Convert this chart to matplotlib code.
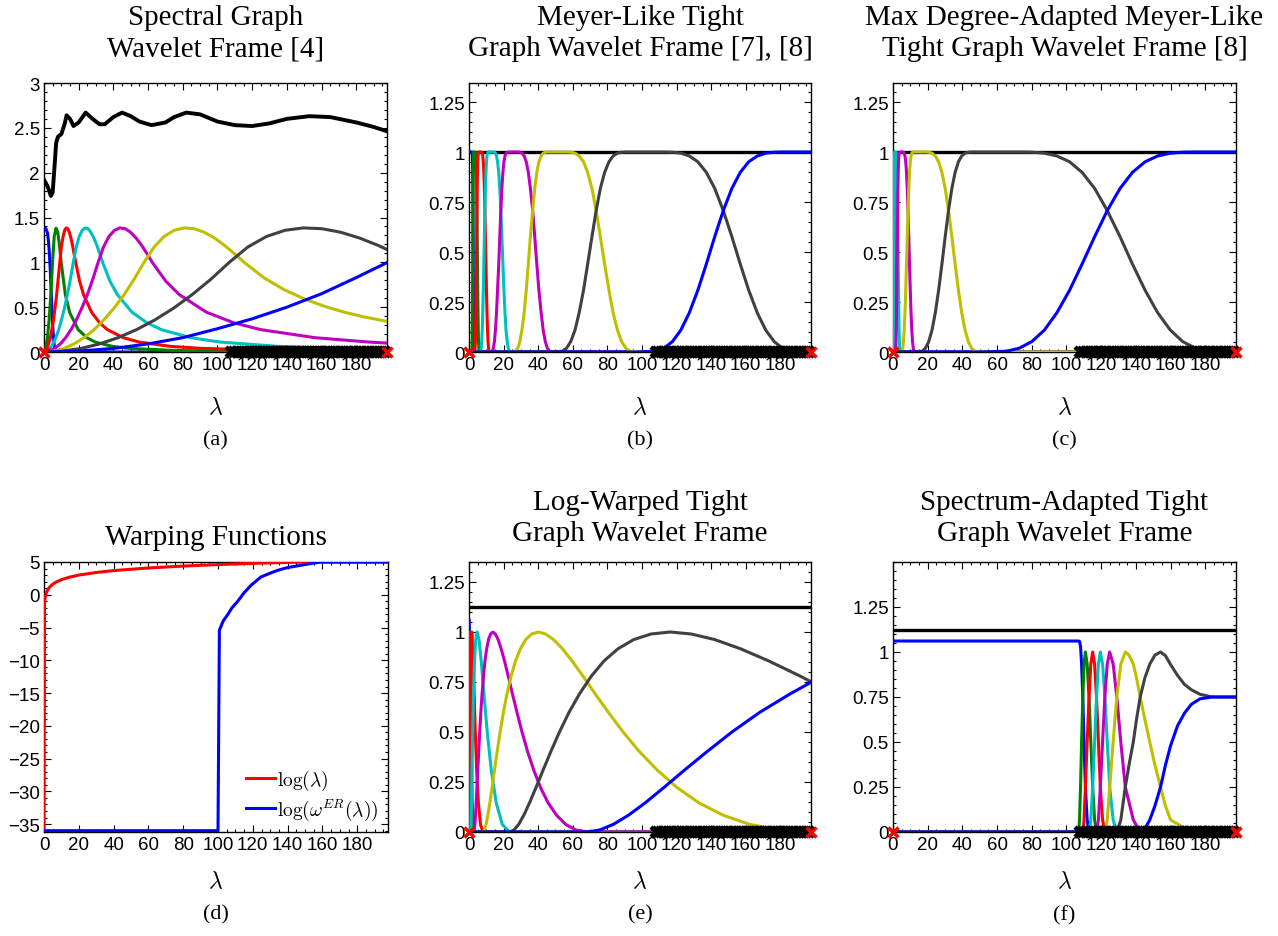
import matplotlib
matplotlib.use("Agg")
import matplotlib.pyplot as plt
from matplotlib.ticker import AutoMinorLocator

plt.rcParams['font.family'] = ['Liberation Sans', 'DejaVu Sans']
plt.rcParams['mathtext.fontset'] = 'cm'

# ---------------- data ----------------
lam_max = 197.7
eig_vals = [108, 109.5, 111, 112.5, 114, 115.5, 117, 118.5, 120, 121.5, 123, 124.5, 126,
            127.5, 129, 130.5, 132, 133.5, 135, 136.5, 138, 139.5, 141, 142.5, 144, 145.5,
            147, 148.5, 150, 151.5, 153, 154.5, 156, 157.5, 159, 160.5, 162, 163.5, 165,
            166.5, 168, 169.5, 171, 172.5, 174, 175.5, 177, 178.5, 180, 181.5, 183, 184.5,
            186, 187.5, 189, 190.5, 192, 193.5, 195, 196.5]
x_ticks = [0, 20, 40, 60, 80, 100, 120, 140, 160, 180]
x_ticklabels = ['0', '20', '40', '60', '80', '100', '120', '140', '160', '180']

# (a) spectral graph wavelets
a_blue_lam = [0, 1, 2, 2.5, 3, 3.5, 4, 4.5, 5, 5.5, 6, 7, 8, 198]
a_blue_val = [1.38, 1.38, 1.33, 1.25, 1.13, 0.96, 0.74, 0.51, 0.30, 0.15, 0.06, 0.004, 0, 0]
a_green_lam = [0, 1, 2, 3, 4, 4.9, 5.9, 6.9, 7.9, 8.9, 9.9, 12.3, 14.8, 19.7, 24.7, 29.6,
               39.4, 49.3, 74, 98.6, 148, 198]
a_green_val = [0, 0.04, 0.16, 0.37, 0.66, 1, 1.29, 1.38, 1.34, 1.19, 1, 0.64, 0.44, 0.25,
               0.16, 0.11, 0.063, 0.04, 0.018, 0.01, 0.0044, 0.0025]
a_red_lam = [0, 1.8, 3.7, 5.5, 7.3, 9.1, 10, 11, 11.9, 12.8, 13.7, 14.6, 15.5, 16.4, 17.3,
             18.3, 20.5, 22.8, 27.4, 32, 36.5, 45.7, 54.8, 73, 91, 137, 183, 198]
a_red_val = [0, .04, .16, .36, .64, 1, 1.171, 1.288, 1.357, 1.384, 1.375, 1.336, 1.273,
             1.192, 1.099, 1, .79, .64, .444, .327, .25, .16, .111, .0625, .04, .018, .01,
             .0085]
a_cyan_lam = [0, 1.7, 3.4, 5.1, 6.8, 8.5, 10.1, 11.8, 13.5, 15.2, 16.9, 18.6, 20.3, 22,
              23.7, 25.4, 27, 28.7, 30.4, 32.1, 33.8, 38.0, 42.3, 50.7, 59.2, 67.6, 84.5,
              101.4, 135.2, 169, 198]
a_cyan_val = [0, .01, .04, .09, .16, .25, .36, .49, .64, .81, 1, 1.171, 1.288, 1.357,
              1.384, 1.375, 1.336, 1.273, 1.192, 1.099, 1, .79, .64, .444, .327, .25, .16,
              .111, .0625, .04, .029]
a_mag_lam = [0, 3.1, 6.2, 9.4, 12.5, 15.6, 18.7, 21.8, 25, 28.1, 31.2, 34.3, 37.4, 40.6,
             43.7, 46.8, 49.9, 53, 56.2, 59.3, 62.4, 70.2, 78, 93.6, 109.2, 124.8, 156,
             187.2, 198]
a_mag_val = [0, .01, .04, .09, .16, .25, .36, .49, .64, .81, 1, 1.171, 1.288, 1.357,
             1.384, 1.375, 1.336, 1.273, 1.192, 1.099, 1, .79, .64, .444, .327, .25, .16,
             .111, .099]
a_yel_lam = [0, 5.8, 11.5, 17.3, 23.1, 28.9, 34.6, 40.4, 46.2, 51.9, 57.7, 63.5, 69.2,
             75.0, 80.8, 86.6, 92.3, 98.1, 103.9, 109.6, 115.4, 126.9, 138.5, 150, 161.6,
             173.1, 184.6, 198]
a_yel_val = [0, .01, .04, .09, .16, .25, .36, .49, .64, .81, 1, 1.171, 1.288, 1.357,
             1.384, 1.375, 1.336, 1.273, 1.192, 1.099, 1, .826, .694, .592, .51, .444,
             .391, .34]
a_gray_lam = [0, 10.7, 21.4, 32, 42.7, 53.4, 64.1, 74.8, 85.4, 96.1, 106.8, 117.5, 128.2,
              138.8, 149.5, 160.2, 170.9, 181.6, 192.2, 198]
a_gray_val = [0, .01, .04, .09, .16, .25, .36, .49, .64, .81, 1, 1.171, 1.288, 1.357,
              1.384, 1.375, 1.336, 1.273, 1.192, 1.14]
a_blue2_lam = [0, 20, 40, 60, 80, 100, 120, 140, 160, 180, 198]
a_blue2_val = [0, 0.01, 0.04, 0.09, 0.16, 0.26, 0.37, 0.5, 0.65, 0.83, 1.0]
a_sum_lam = [0, 2, 4, 5, 6, 7, 8, 10, 12, 13, 15, 17, 20, 24, 28, 32, 35, 40, 45, 50, 55,
             62, 70, 75, 82, 90, 100, 110, 120, 130, 140, 153, 165, 180, 190, 198]
a_sum_val = [1.92, 1.85, 1.74, 1.78, 2.05, 2.33, 2.40, 2.43, 2.55, 2.64, 2.60, 2.52, 2.56,
             2.67, 2.60, 2.54, 2.54, 2.62, 2.67, 2.63, 2.57, 2.53, 2.56, 2.62, 2.67, 2.65,
             2.57, 2.53, 2.52, 2.55, 2.60, 2.63, 2.62, 2.56, 2.51, 2.46]

# Meyer-like transition (b) and (c)
meyer_rise = [0, .004, .019, .052, .11, .197, .309, .44, .578, .707, .817, .898, .951,
              .98, .994, .999, 1, 1, 1]
meyer_fall = [1, 1, 1, .999, .994, .98, .951, .898, .817, .707, .578, .44, .309, .197,
              .11, .052, .019, .004, 0]

# (b) transition bands, highest first
b_band1 = [98, 107.8, 112.7, 117.6, 122.5, 127.4, 132.3, 137.2, 142.1, 147, 151.9, 156.8,
           161.7, 166.6, 171.5, 176.4, 181.3, 186.2, 196]
b_band2 = [49, 53.9, 56.4, 58.8, 61.3, 63.7, 66.2, 68.6, 71.1, 73.5, 75.9, 78.4, 80.9,
           83.3, 85.8, 88.2, 90.7, 93.1, 98]
b_band3 = [24.5, 26.9, 28.2, 29.4, 30.6, 31.9, 33.1, 34.3, 35.5, 36.8, 38.0, 39.2, 40.4,
           41.7, 42.9, 44.1, 45.3, 46.6, 49]
b_band4 = [12.25, 13.5, 14.1, 14.7, 15.3, 15.9, 16.5, 17.2, 17.8, 18.4, 19.0, 19.6, 20.2,
           20.8, 21.4, 22.1, 22.7, 23.3, 24.5]
b_band5 = [6.13, 6.74, 7.04, 7.35, 7.66, 7.96, 8.27, 8.58, 8.88, 9.19, 9.49, 9.8, 10.1,
           10.4, 10.7, 11.0, 11.3, 11.6, 12.25]
b_band6 = [3.06, 3.37, 3.52, 3.68, 3.83, 3.98, 4.13, 4.29, 4.44, 4.59, 4.75, 4.90, 5.05,
           5.21, 5.36, 5.51, 5.67, 5.82, 6.13]
b_band7 = [1.53, 1.68, 1.76, 1.84, 1.91, 1.99, 2.07, 2.14, 2.22, 2.30, 2.37, 2.45, 2.53,
           2.60, 2.68, 2.76, 2.83, 2.91, 3.06]

# (c) transition bands, highest first
c_band1 = [51, 65.5, 72.8, 80.0, 87.3, 94.5, 101.8, 109.0, 116.3, 123.5, 130.8, 138.0,
           145.3, 152.5, 159.8, 167.0, 174.3, 181.5, 196]
c_band2 = [13, 16.8, 18.7, 20.6, 22.5, 24.4, 26.3, 28.2, 30.1, 32.0, 33.9, 35.8, 37.7,
           39.6, 41.5, 43.4, 45.3, 47.2, 51]
c_band3 = [4.3, 5.17, 5.61, 6.04, 6.48, 6.91, 7.35, 7.78, 8.22, 8.65, 9.09, 9.52, 9.96,
           10.39, 10.83, 11.26, 11.7, 12.13, 13]
c_band4 = [1.1, 1.42, 1.58, 1.74, 1.9, 2.06, 2.22, 2.38, 2.54, 2.7, 2.86, 3.02, 3.18,
           3.34, 3.5, 3.66, 3.82, 3.98, 4.3]
c_band5 = [0.3, 0.38, 0.42, 0.46, 0.5, 0.54, 0.58, 0.62, 0.66, 0.7, 0.74, 0.78, 0.82,
           0.86, 0.9, 0.94, 0.98, 1.02, 1.1]

# (d) warping functions
d_red_lam = [0, 0.3, 0.6, 1, 1.5, 2, 3, 5, 7, 10, 15, 20, 30, 40, 60, 80, 100, 120, 148, 198]
d_red_val = [-36, -1.2, -0.51, 0, 0.41, 0.69, 1.10, 1.61, 1.95, 2.30, 2.71, 3.0, 3.40,
             3.69, 4.09, 4.38, 4.61, 4.79, 5.0, 5.0]
d_blue_lam = [0, 100, 100.8, 103, 105.4, 108, 111, 115, 119, 124.6, 130, 134.3, 140,
              147.7, 153, 159, 198]
d_blue_val = [-36, -36, -5.4, -4.0, -3.1, -2.0, -1.1, 0.3, 1.45, 2.7, 3.3, 3.73, 4.15,
              4.5, 4.75, 5.0, 5.0]

# (e) log-warped tight frame
cos_bump17 = [0, 0, .038, .146, .309, .5, .691, .854, .962, 1, .962, .854, .691, .5, .309,
              .146, .038, 0, 0]
cos_bump33 = [0, 0, .010, .038, .084, .146, .222, .309, .402, .5, .598, .691, .778, .854,
              .916, .962, .990, 1, .990, .962, .916, .854, .778, .691, .598, .5, .402,
              .309, .222, .146, .084, .038, .010, 0, 0]
e_blue_lam = [0, 0.113, 0.193, 0.252, 0.329, 0.43, 0.561, 0.733, 0.956, 198]
e_blue_val = [1.061, 1.061, 1.031, 0.935, 0.75, 0.5, 0.25, 0.067, 0, 0]
e_green_lam = [0, 0.113, 0.206, 0.308, 0.459, 0.561, 0.837, 1.248, 1.862, 2.779, 198]
e_green_val = [0, 0, .309, .691, .962, 1, .854, .5, .146, 0, 0]
e_red_lam = [0, 0.329, 0.491, 0.733, 1.093, 1.631, 2.433, 3.63, 4.434, 5.415, 6.614, 8.077, 198]
e_red_val = [0, 0, .146, .5, .854, 1, .854, .5, .309, .146, .038, 0, 0]
e_cyan_lam = [0, 0.957, 1.169, 1.428, 1.744, 2.130, 2.601, 3.177, 3.881, 4.740, 5.789,
              7.071, 8.637, 10.55, 12.88, 15.74, 19.22, 23.48, 198]
e_mag_lam = [0, 2.78, 3.07, 3.40, 3.76, 4.15, 4.59, 5.07, 5.60, 6.19, 6.84, 7.56, 8.36,
             9.23, 10.2, 11.28, 12.47, 13.78, 15.23, 16.83, 18.6, 20.56, 22.72, 25.1,
             27.75, 30.66, 33.89, 37.45, 41.39, 45.7, 50.6, 55.9, 61.8, 68.2, 198]
e_yel_lam = [0, 8.08, 8.93, 9.87, 10.91, 12.06, 13.33, 14.73, 16.28, 17.99, 19.88, 21.98,
             24.29, 26.84, 29.67, 32.79, 36.24, 40.04, 44.25, 48.9, 54.05, 59.7, 66.0,
             72.9, 80.6, 89.1, 98.5, 108.9, 120.3, 132.9, 146.9, 162.3, 179.4, 198]
e_yel_val = [0, 0, .010, .038, .084, .146, .222, .309, .402, .5, .598, .691, .778, .854,
             .916, .962, .990, 1, .990, .962, .916, .854, .778, .691, .598, .5, .402, .309,
             .222, .146, .084, .038, .010, 0]
e_gray_lam = [0, 23.5, 25.97, 28.7, 31.7, 35.0, 38.7, 42.8, 47.3, 52.3, 57.8, 63.9, 70.6,
              77.9, 86.1, 95.2, 105.2, 116.3, 128.5, 142.1, 157.0, 173.6, 191.8, 198]
e_gray_val = [0, 0, .010, .038, .084, .146, .222, .309, .402, .5, .598, .691, .778, .854,
              .916, .962, .990, 1, .990, .962, .916, .854, .778, .75]
e_blue2_lam = [0, 68.3, 75.5, 83.4, 92.2, 101.9, 112.6, 124.5, 137.6, 152.0, 168.0, 185.7, 198]
e_blue2_val = [0, 0, .010, .038, .084, .146, .222, .309, .402, .5, .598, .691, .75]

# (f) spectrum-adapted tight frame
warp_bump = [0, 0, .067, .25, .5, .75, .933, 1, .933, .75, .5, .25, .067, 0, 0]
f_blue_lam = [0, 107.0, 107.5, 108.1, 108.7, 109.4, 110.1, 110.9, 111.9, 113.0, 198]
f_blue_val = [1.061, 1.061, 1.059, 1.031, .935, .75, .5, .25, .067, 0, 0]
f_green_lam = [0, 107.0, 107.5, 108.1, 108.7, 109.4, 110.1, 110.9, 111.9, 113.0, 114.0,
               115.1, 116.2, 117.3, 198]
f_red_lam = [0, 109.4, 110.1, 110.9, 111.9, 113.0, 114.0, 115.1, 116.2, 117.3, 118.4,
             119.5, 120.8, 122.1, 198]
f_cyan_lam = [0, 113.0, 114.0, 115.1, 116.2, 117.3, 118.4, 119.5, 120.8, 122.1, 123.5,
              124.9, 126.9, 129.0, 198]
f_mag_lam = [0, 117.3, 118.4, 119.5, 120.8, 122.1, 123.5, 124.9, 126.9, 129.0, 131.3,
             133.9, 138.5, 142.5, 198]
f_yel_lam = [0, 122.1, 123.5, 124.9, 126.9, 129.0, 131.3, 133.9, 136.0, 138.5, 140.4,
             142.5, 145.1, 148.0, 151.0, 154.2, 157.0, 160.0, 169, 184, 198]
f_yel_val = [0, 0, .067, .25, .5, .75, .933, 1, .983, .933, .854, .75, .629, .5, .371,
             .25, .146, .067, .017, 0, 0]
f_gray_lam = [0, 129.0, 131.3, 133.9, 136.0, 138.5, 140.4, 142.5, 145.1, 148.0, 151.0,
              154.2, 157.0, 160.0, 164, 168, 172, 177, 184, 198]
f_gray_val = [0, 0, .067, .25, .371, .5, .629, .75, .854, .933, .983, 1, .98, .93, .87,
              .82, .79, .765, .75, .75]
f_blue2_lam = [0, 142.5, 145.1, 148.0, 151.0, 154.2, 157.0, 160.0, 164, 168, 172, 177,
               184, 198]
f_blue2_val = [0, 0, .017, .067, .146, .25, .37, .48, .59, .66, .71, .74, .75, .75]

frame_sum_lam = [0, 198]
b_sum_val = [1, 1]
e_sum_val = [1.125, 1.125]

titles = ['Spectral Graph\nWavelet Frame [4]',
          'Meyer-Like Tight\nGraph Wavelet Frame [7], [8]',
          'Max Degree-Adapted Meyer-Like\nTight Graph Wavelet Frame [8]',
          'Warping Functions',
          'Log-Warped Tight\nGraph Wavelet Frame',
          'Spectrum-Adapted Tight\nGraph Wavelet Frame']
captions = ['(a)', '(b)', '(c)', '(d)', '(e)', '(f)']

# ---------------- style ----------------
BLUE = '#0000ff'
GREEN = '#008000'
RED = '#ff0000'
CYAN = '#00bfbf'
MAG = '#bf00bf'
YEL = '#bfbf00'
GRAY = '#404040'
LW = 2.2
SERIF = 'Liberation Serif'

fig = plt.figure(figsize=(12.78, 9.37), dpi=100)
W, H = 1278.0, 937.0


def make_axes(left, right, top, bottom):
    return fig.add_axes([left / W, 1 - bottom / H, (right - left) / W, (bottom - top) / H])


def meyer(rise_band, fall_band):
    # one tight-frame kernel: rises over one band, falls over the next
    lam = [0] + rise_band + fall_band[1:] + [198]
    val = [0] + meyer_rise + meyer_fall[1:] + [0]
    return lam, val


def style(ax, ylim, yticks, yticklabels, yminor):
    ax.set_xlim(0, lam_max)
    ax.set_ylim(*ylim)
    ax.set_xticks(x_ticks)
    ax.set_xticklabels(x_ticklabels)
    ax.set_yticks(yticks)
    ax.set_yticklabels(yticklabels)
    ax.xaxis.set_minor_locator(AutoMinorLocator(4))
    ax.yaxis.set_minor_locator(AutoMinorLocator(yminor))
    ax.tick_params(which='both', direction='in', top=True, right=True, labelsize=13.5,
                   width=0.8, pad=3)
    ax.tick_params(which='major', length=5)
    ax.tick_params(which='minor', length=2.5)
    for s in ax.spines.values():
        s.set_linewidth(1.0)


def finish(ax, title, caption, lab_y, cap_y, pad):
    ax.set_title(title, fontfamily=SERIF, fontsize=21, pad=pad, linespacing=1.25)
    ax.text(0.5, lab_y, r'$\lambda$', transform=ax.transAxes, ha='center', va='center',
            fontsize=17)
    ax.text(0.5, cap_y, caption, transform=ax.transAxes, ha='center', va='center',
            fontfamily=SERIF, fontsize=16)


def draw_eigs(ax):
    ax.plot(eig_vals, [0] * len(eig_vals), 'x', color='k', ms=6.5, mew=3.2, clip_on=False,
            zorder=5)
    ax.plot([0, lam_max], [0, 0], 'x', color=RED, ms=7.5, mew=2.5, clip_on=False, zorder=6)


def draw_curves(ax, curves, total_lam, total_val, total_lw):
    ax.plot(total_lam, total_val, color='k', lw=total_lw, zorder=3)
    for lam, val, col in curves:
        ax.plot(lam, val, color=col, lw=LW, solid_joinstyle='round', zorder=3)
    draw_eigs(ax)


top_rows = (84, 353)
bot_rows = (563, 833)
cols = [(44, 387), (469, 811), (893, 1236)]
yt = [0, 0.25, 0.5, 0.75, 1, 1.25]
ytl = ['0', '0.25', '0.5', '0.75', '1', '1.25']

# (a)
ax = make_axes(cols[0][0], cols[0][1], *top_rows)
draw_curves(ax, [(a_blue_lam, a_blue_val, BLUE), (a_green_lam, a_green_val, GREEN),
                 (a_red_lam, a_red_val, RED), (a_cyan_lam, a_cyan_val, CYAN),
                 (a_mag_lam, a_mag_val, MAG), (a_yel_lam, a_yel_val, YEL),
                 (a_gray_lam, a_gray_val, GRAY), (a_blue2_lam, a_blue2_val, BLUE)],
            a_sum_lam, a_sum_val, 2.8)
style(ax, (0, 3), [0, 0.5, 1, 1.5, 2, 2.5, 3], ['0', '0.5', '1', '1.5', '2', '2.5', '3'], 5)
finish(ax, titles[0], captions[0], -0.205, -0.325, 20)

# (b)
ax = make_axes(cols[1][0], cols[1][1], *top_rows)
b_curves = [([0] + b_band7 + [198], [1] + meyer_fall + [0], BLUE),
            (*meyer(b_band7, b_band6), GREEN),
            (*meyer(b_band6, b_band5), RED),
            (*meyer(b_band5, b_band4), CYAN),
            (*meyer(b_band4, b_band3), MAG),
            (*meyer(b_band3, b_band2), YEL),
            (*meyer(b_band2, b_band1), GRAY),
            ([0] + b_band1 + [198], [0] + meyer_rise + [1], BLUE)]
draw_curves(ax, b_curves, frame_sum_lam, b_sum_val, 2.4)
style(ax, (0, 1.345), yt, ytl, 5)
finish(ax, titles[1], captions[1], -0.205, -0.325, 20)

# (c)
ax = make_axes(cols[2][0], cols[2][1], *top_rows)
c_curves = [([0] + c_band5 + [198], [1] + meyer_fall + [0], BLUE),
            (*meyer(c_band5, c_band4), CYAN),
            (*meyer(c_band4, c_band3), MAG),
            (*meyer(c_band3, c_band2), YEL),
            (*meyer(c_band2, c_band1), GRAY),
            ([0] + c_band1 + [198], [0] + meyer_rise + [1], BLUE)]
draw_curves(ax, c_curves, frame_sum_lam, b_sum_val, 2.4)
style(ax, (0, 1.345), yt, ytl, 5)
finish(ax, titles[2], captions[2], -0.205, -0.325, 20)

# (d)
ax = make_axes(44, 388, *bot_rows)
ax.plot(d_red_lam, d_red_val, color=RED, lw=LW, zorder=3, label=r'$\log(\lambda)$')
ax.plot(d_blue_lam, d_blue_val, color=BLUE, lw=LW, zorder=3,
        label=r'$\log(\omega^{ER}(\lambda))$')
style(ax, (-36.2, 5), [5, 0, -5, -10, -15, -20, -25, -30, -35],
      ['5', '0', '\u22125', '\u221210', '\u221215', '\u221220', '\u221225', '\u221230',
       '\u221235'], 5)
ax.legend(loc='lower right', frameon=False, fontsize=14, handlelength=1.5,
          handletextpad=0.1, borderaxespad=0.1, labelspacing=0.25)
finish(ax, titles[3], captions[3], -0.181, -0.305, 13)

# (e)
ax = make_axes(cols[1][0], cols[1][1], *bot_rows)
draw_curves(ax, [(e_blue_lam, e_blue_val, BLUE), (e_green_lam, e_green_val, GREEN),
                 (e_red_lam, e_red_val, RED), (e_cyan_lam, cos_bump17, CYAN),
                 (e_mag_lam, cos_bump33, MAG), (e_yel_lam, e_yel_val, YEL),
                 (e_gray_lam, e_gray_val, GRAY), (e_blue2_lam, e_blue2_val, BLUE)],
            frame_sum_lam, e_sum_val, 2.4)
style(ax, (0, 1.35), yt, ytl, 5)
finish(ax, titles[4], captions[4], -0.181, -0.305, 16)

# (f)
ax = make_axes(cols[2][0], cols[2][1], *bot_rows)
draw_curves(ax, [(f_blue_lam, f_blue_val, BLUE), (f_green_lam, warp_bump, GREEN),
                 (f_red_lam, warp_bump, RED), (f_cyan_lam, warp_bump, CYAN),
                 (f_mag_lam, warp_bump, MAG), (f_yel_lam, f_yel_val, YEL),
                 (f_gray_lam, f_gray_val, GRAY), (f_blue2_lam, f_blue2_val, BLUE)],
            frame_sum_lam, e_sum_val, 2.4)
style(ax, (0, 1.5), yt, ytl, 5)
finish(ax, titles[5], captions[5], -0.181, -0.305, 16)

fig.savefig('out.png', dpi=100)
